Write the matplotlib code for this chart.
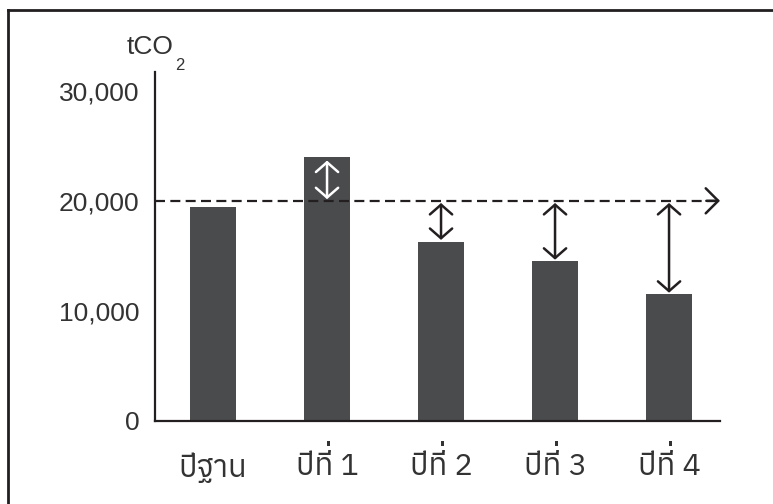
import matplotlib
matplotlib.use('Agg')
import matplotlib.pyplot as plt
from matplotlib import font_manager
from matplotlib.font_manager import FontProperties
from matplotlib.lines import Line2D
from matplotlib.patches import PathPatch
from matplotlib.textpath import TextPath
from matplotlib.transforms import Affine2D

# ข้อมูล
categories = ['ปีฐาน', 'ปีที่ 1', 'ปีที่ 2', 'ปีที่ 3', 'ปีที่ 4']
emissions = [19400, 24000, 16300, 14500, 11500]
target = 20000
yticks = [0, 10000, 20000, 30000]
ytick_labels = ['0', '10,000', '20,000', '30,000']
unit_label = 'tCO'
unit_sub = '2'

bar_color = '#4a4b4d'
ink = '#231f20'
text_color = '#333333'
MAI_EK = '\u0e48'


# หาฟอนต์ที่มีอักษรไทย (เลือกน้ำหนักปกติก่อน)
def find_thai_font():
    try:
        from fontTools.ttLib import TTFont
    except ImportError:
        return None
    found = []
    for f in font_manager.fontManager.ttflist:
        try:
            tt = TTFont(f.fname, fontNumber=0, lazy=True)
            cmap = tt.getBestCmap()
            if cmap and 0x0E1B in cmap and 0x0E10 in cmap:
                w = f.weight if isinstance(f.weight, int) else 400
                found.append((abs(w - 400) + (0 if f.style == 'normal' else 500), f.name))
        except Exception:
            pass
    if not found:
        return None
    found.sort()
    return found[0][1]


thai_font = find_thai_font()
thai_family = [thai_font, 'DejaVu Sans'] if thai_font else ['DejaVu Sans']
num_family = ['Liberation Sans', 'DejaVu Sans']

fig = plt.figure(figsize=(7.73, 5.04), dpi=100)
ax = fig.add_axes([155 / 773, 1 - 421 / 504, (720 - 155) / 773, (421 - 72) / 504])

x = list(range(len(categories)))
ax.bar(x, emissions, width=0.40, color=bar_color, zorder=2)

ax.set_xlim(-0.509, 4.447)
ax.set_ylim(0, 31700)

ax.set_yticks(yticks)
ax.set_yticklabels(ytick_labels, family=num_family, fontsize=19, color=text_color)
ax.set_xticks(x)
ax.set_xticklabels(categories, family=thai_family, fontsize=22, color=text_color)
ax.tick_params(axis='y', length=0, pad=11)
ax.tick_params(axis='x', length=0, pad=23)

# matplotlib ไม่จัดวรรณยุกต์ซ้อนสระบน จึงวาดรูปไม้เอกซ้ำไว้สูงขึ้น
mark_path = TextPath((0, 0), MAI_EK, size=22, prop=FontProperties(family=thai_family))
ext = mark_path.get_extents()
cx = (ext.x0 + ext.x1) / 2
px = fig.dpi / 72
for i, lab in enumerate(categories):
    if MAI_EK in lab:
        bx, by = ax.transData.transform((i, 0))
        tr = Affine2D().translate(-cx, 0).scale(px).translate(bx + 1.5, by - 32.3 * px)
        fig.add_artist(PathPatch(mark_path, transform=tr, facecolor=text_color, lw=0))

for side in ['top', 'right']:
    ax.spines[side].set_visible(False)
for side in ['left', 'bottom']:
    ax.spines[side].set_linewidth(1.6)
    ax.spines[side].set_color(ink)

# เส้นเป้าหมาย
x0, x1 = ax.get_xlim()
ax.plot([x0, x1], [target, target], color=ink, lw=1.6, ls=(0, (4.5, 2.4)), zorder=3, clip_on=False)
ax.annotate('', xy=(x1, target), xytext=(x1 - 0.12, target),
            arrowprops=dict(arrowstyle='->,head_width=0.45,head_length=0.45', color=ink, lw=1.8,
                            mutation_scale=20, shrinkA=0, shrinkB=0),
            annotation_clip=False)

# ลูกศรแสดงส่วนต่าง
for i in range(1, len(emissions)):
    v = emissions[i]
    if v > target:
        col = 'white'
        top, bot = v - 350, target + 150
    else:
        col = ink
        top, bot = target - 200, v + 150
    ax.annotate('', xy=(i, bot), xytext=(i, top),
                arrowprops=dict(arrowstyle='<->,head_width=0.4,head_length=0.35', color=col, lw=1.8,
                                mutation_scale=20, shrinkA=0, shrinkB=0),
                zorder=4)

# หน่วย
fig.text(150 / 773, 1 - 47 / 504, unit_label, ha='center', va='center', fontsize=19,
         family=num_family, color=text_color)
fig.text(180 / 773, 1 - 65 / 504, unit_sub, ha='center', va='center', fontsize=12,
         family=num_family, color=text_color)

# กรอบ
fig.add_artist(Line2D([8 / 773, 1.0], [1 - 10 / 504, 1 - 10 / 504], color=ink, lw=2))
fig.add_artist(Line2D([8 / 773, 8 / 773], [0, 1 - 10 / 504], color=ink, lw=2))

fig.savefig('out.png', dpi=100)
